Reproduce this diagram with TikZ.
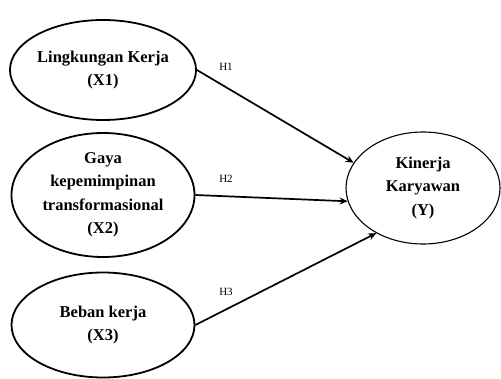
\documentclass[tikz,border=0pt]{standalone}
\usepackage{fontspec}
\setmainfont{Liberation Serif}
\usetikzlibrary{shapes.geometric,arrows.meta}
\begin{document}
\begin{tikzpicture}[x=1pt,y=-1pt,
  var/.style={ellipse,draw,line width=1.8pt,inner sep=0pt,align=center,
    font=\fontsize{16.5}{23.5}\selectfont\bfseries},
  arr/.style={line width=1.7pt,-{Stealth[length=8pt,width=7pt]}},
  hlab/.style={font=\fontsize{11}{12}\selectfont}]
\useasboundingbox (0,0) rectangle (501,378);
\node[var,minimum width=183pt,minimum height=100pt] (x1) at (103,70) {Lingkungan Kerja\\(X1)};
\node[var,minimum width=183pt,minimum height=124pt] (x2) at (103,195) {Gaya\\kepemimpinan\\transformasional\\(X2)};
\node[var,minimum width=183pt,minimum height=105pt] (x3) at (103,325) {Beban kerja\\(X3)};
\node[var,line width=1.1pt,minimum width=154pt,minimum height=112pt] (y) at (423,188) {Kinerja\\Karyawan\\(Y)};
\draw[arr] (x1.east) -- (y.160);
\draw[arr] (x2.east) -- (y.190);
\draw[arr] (x3.east) -- (y.224);
\node[hlab] (h1) at (226,67) {H1};
\node[hlab] (h2) at (226,179) {H2};
\node[hlab] (h3) at (226,292) {H3};
\end{tikzpicture}
\end{document}
